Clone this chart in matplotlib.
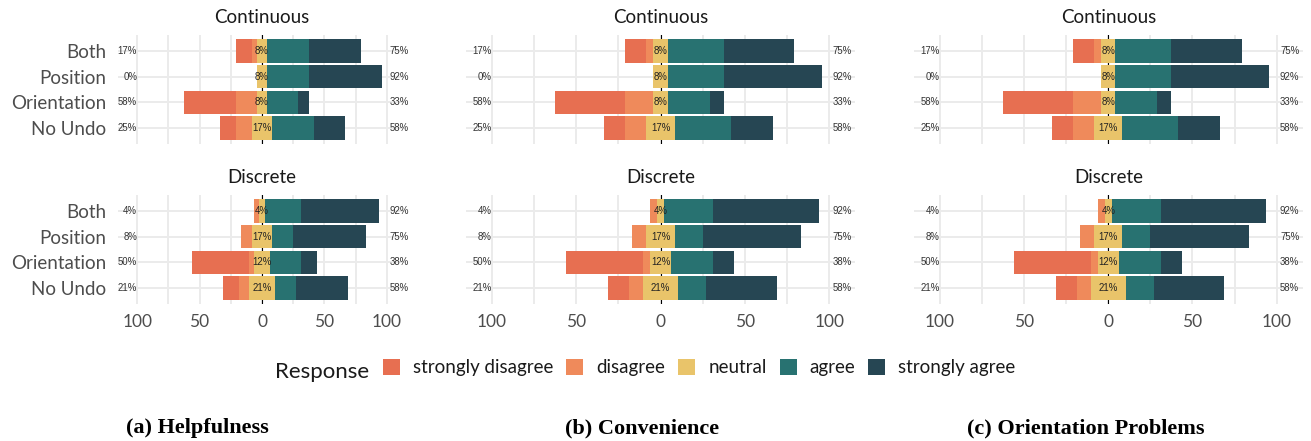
import numpy as np
import matplotlib
matplotlib.use("Agg")
import matplotlib.pyplot as plt
from matplotlib.patches import Patch

# ---------------- data ----------------
items = ["Both", "Position", "Orientation", "No Undo"]
facets = ["Continuous", "Discrete"]
levels = ["strongly disagree", "disagree", "neutral", "agree", "strongly agree"]
colors = ["#E76F51", "#EF8A5B", "#E9C46A", "#287271", "#264653"]
captions = ["(a) Helpfulness", "(b) Convenience", "(c) Orientation Problems"]

# percentages per item (Both, Position, Orientation, No Undo)
continuous_sd = [12.5, 0.0, 41.7, 12.5]
continuous_d = [4.2, 0.0, 16.7, 12.5]
continuous_n = [8.3, 8.3, 8.3, 16.7]
continuous_a = [33.3, 33.3, 25.0, 33.3]
continuous_sa = [41.7, 58.3, 8.3, 25.0]

discrete_sd = [0.0, 0.0, 45.8, 12.5]
discrete_d = [4.2, 8.3, 4.2, 8.3]
discrete_n = [4.2, 16.7, 12.5, 20.8]
discrete_a = [29.2, 16.7, 25.0, 16.7]
discrete_sa = [62.5, 58.3, 12.5, 41.7]

x_ticks = [-100, -50, 0, 50, 100]
x_ticklabels = ["100", "50", "0", "50", "100"]
x_minor = [-75, -25, 25, 75]

facet_data = {
    "Continuous": [continuous_sd, continuous_d, continuous_n, continuous_a, continuous_sa],
    "Discrete": [discrete_sd, discrete_d, discrete_n, discrete_a, discrete_sa],
}
# the three sub-figures show the same response distributions
panel_data = [facet_data, facet_data, facet_data]

# ---------------- layout ----------------
plt.rcParams["font.family"] = ["Lato", "DejaVu Sans"]
W, H = 1311, 441
fig = plt.figure(figsize=(W / 100, H / 100), dpi=100)


def rect(l, r, t, b):
    return [l / W, 1 - b / H, (r - l) / W, (b - t) / H]


panel_x = [(117.8, 406.2), (465.5, 855.5), (913.9, 1302.7)]
facet_y = [(35, 144), (195, 304)]
XLIM = 115.5
ypos = np.arange(1, len(items) + 1)
pct_fs = 6.9

for p, (l, r) in enumerate(panel_x):
    for f, (t, b) in enumerate(facet_y):
        ax = fig.add_axes(rect(l, r, t, b))
        sd, d, n, a, sa = [np.array(v) for v in panel_data[p][facets[f]]]
        ax.set_xlim(-XLIM, XLIM)
        ax.set_ylim(len(items) + 0.6, 0.4)
        for s in ax.spines.values():
            s.set_visible(False)
        ax.set_axisbelow(True)
        ax.set_xticks(x_ticks)
        ax.set_xticks(x_minor, minor=True)
        ax.set_yticks(ypos)
        ax.grid(True, which="both", color="#EBEBEB", lw=1.4)
        ax.tick_params(which="both", length=0)
        if f == 1:
            ax.set_xticklabels(x_ticklabels, fontsize=12.5, color="#4D4D4D")
            ax.tick_params(axis="x", pad=7)
        else:
            ax.set_xticklabels([])
        if p == 0:
            ax.set_yticklabels(items, fontsize=13.5, color="#4D4D4D")
            ax.tick_params(axis="y", pad=8.2)
        else:
            ax.set_yticklabels([])
        ax.axvline(0, color="black", lw=0.8, zorder=1)

        lefts = [-(n / 2 + d + sd), -(n / 2 + d), -n / 2, n / 2, n / 2 + a]
        widths = [sd, d, n, a, sa]
        for k in range(5):
            ax.barh(ypos, widths[k], left=lefts[k], height=0.92,
                    color=colors[k], zorder=2, linewidth=0)
        low = sd + d
        high = a + sa
        for i in range(len(items)):
            ax.text(-100, ypos[i], f"{int(np.round(low[i]))}%", ha="right",
                    va="center", fontsize=pct_fs, color="#333333",
                    family="Liberation Sans", zorder=3)
            ax.text(102, ypos[i], f"{int(np.round(high[i]))}%", ha="left",
                    va="center", fontsize=pct_fs, color="#333333",
                    family="Liberation Sans", zorder=3, clip_on=False)
            ax.text(0, ypos[i], f"{int(np.round(n[i]))}%", ha="center",
                    va="center", fontsize=pct_fs, color="#222222",
                    family="Liberation Sans", zorder=3)
        ax.annotate(facets[f], xy=(0.5, 1), xycoords="axes fraction",
                    xytext=(0, 12.3 * 0.72), textcoords="offset points",
                    ha="center", va="baseline", fontsize=13.5, color="#1A1A1A")

# legend
handles = [Patch(facecolor=c, edgecolor="none") for c in colors]
fs = 13.5
fpx = fs * 100 / 72
leg = fig.legend(handles, levels, ncol=5, loc="center left",
                 bbox_to_anchor=(383 / W, 1 - 367.5 / H), frameon=False,
                 fontsize=fs, handlelength=17 / fpx, handleheight=17 / fpx,
                 handletextpad=13 / fpx, columnspacing=13 / fpx,
                 borderpad=0, borderaxespad=0, labelcolor="#1A1A1A")
fig.text(275 / W, 1 - 378 / H, "Response", fontsize=16, ha="left",
         va="baseline", color="#1A1A1A")

cap_x = [197.5, 641.6, 1086]
for cx, cap in zip(cap_x, captions):
    fig.text(cx / W, 1 - 433 / H, cap, ha="center", va="baseline",
             family="Liberation Serif", fontweight="bold", fontsize=16,
             color="black")

fig.savefig("out.png", dpi=100)
